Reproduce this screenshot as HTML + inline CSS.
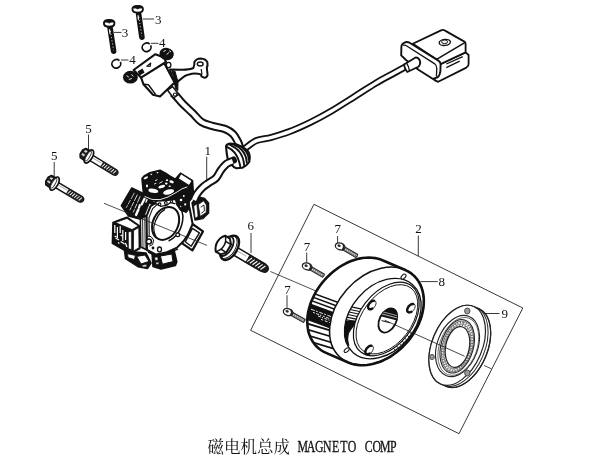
<!DOCTYPE html>
<html lang="zh"><head><meta charset="utf-8"><title>磁电机总成 MAGNETO COMP</title>
<style>
html,body{margin:0;padding:0;background:#fff;}
body{width:600px;height:471px;overflow:hidden;font-family:"Liberation Serif",serif;}
svg{display:block;position:absolute;left:0;top:0;filter:grayscale(1);}
svg text{font-family:"Liberation Serif",serif;fill:#111;}
</style></head>
<body>
<svg width="600" height="471" viewBox="0 0 600 471">
<rect width="600" height="471" fill="#fff"/>
<path d="M314.3 204.5 L522.8 308.0 L459.0 433.7 L251.0 330.5Z" fill="none" stroke="#222" stroke-width="0.9" stroke-linejoin="round" stroke-linecap="round" />
<text x="121.8" y="36.8" font-size="13">3</text>
<line x1="114.0" y1="32.4" x2="121.5" y2="32.4" stroke="#222" stroke-width="0.9"/>
<text x="155.0" y="23.7" font-size="13">3</text>
<line x1="142.7" y1="19.0" x2="154.0" y2="19.0" stroke="#222" stroke-width="0.9"/>
<text x="159.0" y="47.4" font-size="13">4</text>
<line x1="151.0" y1="43.3" x2="158.5" y2="43.3" stroke="#222" stroke-width="0.9"/>
<text x="129.3" y="64.2" font-size="13">4</text>
<line x1="121.0" y1="60.0" x2="128.5" y2="60.0" stroke="#222" stroke-width="0.9"/>
<text x="85.2" y="133.2" font-size="13">5</text>
<line x1="88.5" y1="134.5" x2="88.5" y2="149.5" stroke="#222" stroke-width="0.9"/>
<text x="51.0" y="160.4" font-size="13">5</text>
<line x1="54.2" y1="162.0" x2="54.2" y2="176.0" stroke="#222" stroke-width="0.9"/>
<text x="204.5" y="154.8" font-size="13">1</text>
<line x1="206.7" y1="156.7" x2="206.7" y2="179.3" stroke="#222" stroke-width="0.9"/>
<text x="247.6" y="230.2" font-size="13">6</text>
<line x1="251.0" y1="233.0" x2="251.0" y2="253.0" stroke="#222" stroke-width="0.9"/>
<text x="415.3" y="233.3" font-size="13">2</text>
<line x1="418.3" y1="235.5" x2="418.3" y2="256.0" stroke="#222" stroke-width="0.9"/>
<text x="334.5" y="232.8" font-size="13">7</text>
<line x1="337.6" y1="236.0" x2="337.6" y2="244.0" stroke="#222" stroke-width="0.9"/>
<text x="303.7" y="251.3" font-size="13">7</text>
<line x1="306.7" y1="252.7" x2="306.7" y2="263.3" stroke="#222" stroke-width="0.9"/>
<text x="284.3" y="294.4" font-size="13">7</text>
<line x1="287.0" y1="295.2" x2="287.0" y2="307.7" stroke="#222" stroke-width="0.9"/>
<text x="438.5" y="286.2" font-size="13">8</text>
<line x1="420.4" y1="281.6" x2="437.8" y2="281.6" stroke="#222" stroke-width="0.9"/>
<text x="501.5" y="317.6" font-size="13">9</text>
<line x1="484.5" y1="313.5" x2="499.5" y2="313.5" stroke="#222" stroke-width="0.9"/>
<text x="207.5" y="452.6" font-size="16.5" fill="#111" style="font-family:'Liberation Serif','Noto Serif CJK SC',serif;">磁电机总成</text>
<text transform="scale(0.73 1)" text-anchor="middle" font-size="16.2" stroke="#111" stroke-width="0.3" y="452.0" x="414.6 425.9 437.2 448.5 459.8 471.1 482.4 493.7 505.0 516.3 527.6 538.9">MAGNETO COMP</text>
<defs><clipPath id="fwhull"><path d="M307.3 319.3 L307.6 315.9 L308.1 312.5 L308.9 309.0 L309.9 305.5 L311.0 302.1 L312.5 298.7 L314.1 295.3 L315.9 291.9 L317.9 288.7 L320.1 285.5 L322.5 282.4 L325.0 279.5 L327.7 276.7 L330.5 274.0 L333.4 271.5 L336.4 269.2 L339.5 267.0 L342.7 265.1 L346.0 263.3 L349.3 261.8 L352.6 260.5 L355.9 259.5 L359.2 258.6 L362.5 258.0 L365.8 257.7 L369.0 257.6 L372.1 257.7 L375.1 258.1 L378.1 258.7 L380.9 259.6 L383.6 260.7 L405.9 270.3 L408.4 271.6 L410.8 273.1 L413.0 274.9 L415.0 276.8 L416.9 279.0 L418.5 281.4 L419.9 283.9 L421.2 286.6 L422.1 289.4 L422.9 292.3 L423.4 295.4 L423.8 298.6 L423.8 301.9 L423.7 305.2 L423.3 308.6 L422.6 312.1 L421.8 315.5 L420.7 319.0 L419.4 322.4 L417.9 325.8 L416.1 329.2 L414.2 332.5 L412.1 335.7 L409.8 338.9 L407.4 341.9 L404.8 344.7 L402.0 347.5 L399.2 350.1 L396.2 352.5 L393.1 354.7 L390.0 356.8 L386.8 358.6 L383.5 360.2 L380.2 361.7 L376.8 362.8 L373.5 363.8 L370.2 364.5 L366.9 365.0 L363.7 365.2 L360.5 365.2 L357.5 364.9 L354.5 364.4 L351.6 363.7 L348.9 362.7 L326.6 353.1 L323.9 351.9 L321.5 350.5 L319.2 348.8 L317.1 347.0 L315.1 344.9 L313.4 342.6 L311.9 340.2 L310.5 337.6 L309.4 334.8 L308.5 332.0 L307.9 328.9 L307.5 325.8 L307.3 322.6Z"/></clipPath>
<clipPath id="fwE"><ellipse cx="382.8" cy="318.6" rx="45.2" ry="32.3" transform="rotate(-49.1 382.8 318.6)" fill="#000" stroke="none" stroke-width="1.0" /></clipPath>
<mask id="fwband"><rect x="300" y="250" width="140" height="130" fill="#000"/><ellipse cx="382.8" cy="318.6" rx="45.2" ry="32.3" transform="rotate(-49.1 382.8 318.6)" fill="#fff" stroke="none" stroke-width="1.0" /><ellipse cx="386.3" cy="319.0" rx="41.7" ry="26.4" transform="rotate(-52.4 386.3 319.0)" fill="#000" stroke="none" stroke-width="1.0" /></mask>
<mask id="fwcres"><rect x="300" y="250" width="140" height="130" fill="#000"/><ellipse cx="382.8" cy="318.6" rx="45.2" ry="32.3" transform="rotate(-49.1 382.8 318.6)" fill="#fff" stroke="none" stroke-width="1.0" /><ellipse cx="390.8" cy="320.8" rx="45.2" ry="32.3" transform="rotate(-49.1 390.8 320.8)" fill="#000" stroke="none" stroke-width="1.0" /></mask></defs>
<path d="M307.3 319.3 L307.6 315.9 L308.1 312.5 L308.9 309.0 L309.9 305.5 L311.0 302.1 L312.5 298.7 L314.1 295.3 L315.9 291.9 L317.9 288.7 L320.1 285.5 L322.5 282.4 L325.0 279.5 L327.7 276.7 L330.5 274.0 L333.4 271.5 L336.4 269.2 L339.5 267.0 L342.7 265.1 L346.0 263.3 L349.3 261.8 L352.6 260.5 L355.9 259.5 L359.2 258.6 L362.5 258.0 L365.8 257.7 L369.0 257.6 L372.1 257.7 L375.1 258.1 L378.1 258.7 L380.9 259.6 L383.6 260.7 L405.9 270.3 L408.4 271.6 L410.8 273.1 L413.0 274.9 L415.0 276.8 L416.9 279.0 L418.5 281.4 L419.9 283.9 L421.2 286.6 L422.1 289.4 L422.9 292.3 L423.4 295.4 L423.8 298.6 L423.8 301.9 L423.7 305.2 L423.3 308.6 L422.6 312.1 L421.8 315.5 L420.7 319.0 L419.4 322.4 L417.9 325.8 L416.1 329.2 L414.2 332.5 L412.1 335.7 L409.8 338.9 L407.4 341.9 L404.8 344.7 L402.0 347.5 L399.2 350.1 L396.2 352.5 L393.1 354.7 L390.0 356.8 L386.8 358.6 L383.5 360.2 L380.2 361.7 L376.8 362.8 L373.5 363.8 L370.2 364.5 L366.9 365.0 L363.7 365.2 L360.5 365.2 L357.5 364.9 L354.5 364.4 L351.6 363.7 L348.9 362.7 L326.6 353.1 L323.9 351.9 L321.5 350.5 L319.2 348.8 L317.1 347.0 L315.1 344.9 L313.4 342.6 L311.9 340.2 L310.5 337.6 L309.4 334.8 L308.5 332.0 L307.9 328.9 L307.5 325.8 L307.3 322.6Z" fill="#fff" stroke="none" stroke-width="1.0" stroke-linejoin="round" stroke-linecap="round" />
<g clip-path="url(#fwhull)" stroke="#111" fill="none">
<line x1="300" y1="288.4" x2="345" y2="305.0" stroke-width="1.5"/>
<line x1="300" y1="292.4" x2="345" y2="309.0" stroke-width="1.5"/>
<line x1="300" y1="296.4" x2="345" y2="313.0" stroke-width="1.5"/>
<path d="M300 299.6 L345 316.2 L345 334 L300 317.4Z" fill="#111" stroke="none"/>
<line x1="311.0" y1="309.2" x2="333.0" y2="317.3" stroke="#fff" stroke-width="0.9" stroke-dasharray="4 1.2 2 1.5"/>
<line x1="313.0" y1="312.4" x2="331.0" y2="319.1" stroke="#fff" stroke-width="0.9" stroke-dasharray="2 1.4 3 1 1.5 1.6"/>
<line x1="318.0" y1="316.0" x2="334.0" y2="321.9" stroke="#fff" stroke-width="0.9" stroke-dasharray="3 1.2 1.2 1.4"/>
<line x1="321.0" y1="319.4" x2="333.0" y2="323.8" stroke="#fff" stroke-width="0.9" stroke-dasharray="2 2 3 1.5"/>
<line x1="300" y1="321.4" x2="345" y2="334.9" stroke-width="1.7"/>
<line x1="300" y1="327.2" x2="345" y2="340.7" stroke-width="1.7"/>
<line x1="300" y1="333.0" x2="345" y2="346.5" stroke-width="1.7"/>
<line x1="300" y1="338.6" x2="345" y2="352.1" stroke-width="1.7"/>
</g>
<ellipse cx="376.7" cy="316.2" rx="55.0" ry="40.0" transform="rotate(-48.7 376.7 316.2)" fill="#fff" stroke="#111" stroke-width="1.5" />
<path d="M307.3 319.3 L307.6 315.9 L308.1 312.5 L308.9 309.0 L309.9 305.5 L311.0 302.1 L312.5 298.7 L314.1 295.3 L315.9 291.9 L317.9 288.7 L320.1 285.5 L322.5 282.4 L325.0 279.5 L327.7 276.7 L330.5 274.0 L333.4 271.5 L336.4 269.2 L339.5 267.0 L342.7 265.1 L346.0 263.3 L349.3 261.8 L352.6 260.5 L355.9 259.5 L359.2 258.6 L362.5 258.0 L365.8 257.7 L369.0 257.6 L372.1 257.7 L375.1 258.1 L378.1 258.7 L380.9 259.6 L383.6 260.7 L405.9 270.3 L408.4 271.6 L410.8 273.1 L413.0 274.9 L415.0 276.8 L416.9 279.0 L418.5 281.4 L419.9 283.9 L421.2 286.6 L422.1 289.4 L422.9 292.3 L423.4 295.4 L423.8 298.6 L423.8 301.9 L423.7 305.2 L423.3 308.6 L422.6 312.1 L421.8 315.5 L420.7 319.0 L419.4 322.4 L417.9 325.8 L416.1 329.2 L414.2 332.5 L412.1 335.7 L409.8 338.9 L407.4 341.9 L404.8 344.7 L402.0 347.5 L399.2 350.1 L396.2 352.5 L393.1 354.7 L390.0 356.8 L386.8 358.6 L383.5 360.2 L380.2 361.7 L376.8 362.8 L373.5 363.8 L370.2 364.5 L366.9 365.0 L363.7 365.2 L360.5 365.2 L357.5 364.9 L354.5 364.4 L351.6 363.7 L348.9 362.7 L326.6 353.1 L323.9 351.9 L321.5 350.5 L319.2 348.8 L317.1 347.0 L315.1 344.9 L313.4 342.6 L311.9 340.2 L310.5 337.6 L309.4 334.8 L308.5 332.0 L307.9 328.9 L307.5 325.8 L307.3 322.6Z" fill="none" stroke="#111" stroke-width="2.6" stroke-linejoin="round"/>
<ellipse cx="382.8" cy="318.6" rx="45.2" ry="32.3" transform="rotate(-49.1 382.8 318.6)" fill="#fff" stroke="#111" stroke-width="1.3" />
<g mask="url(#fwband)"><path d="M335 320.5 L356.5 320.5 L354 326 L351 330 L349 333.3 L348.4 337 L348.2 340 L349.4 345.8 L335 345.8Z" fill="#111"/></g>
<g mask="url(#fwband)" stroke="#111">
<line x1="340" y1="304.4" x2="372" y2="311.4" stroke-width="1.1"/>
<line x1="340" y1="307.2" x2="372" y2="314.2" stroke-width="1.1"/>
<line x1="340" y1="310.0" x2="372" y2="317.0" stroke-width="1.1"/>
<line x1="340" y1="312.8" x2="372" y2="319.8" stroke-width="1.1"/>
<line x1="340" y1="315.6" x2="372" y2="322.6" stroke-width="1.1"/>
<line x1="340" y1="318.2" x2="372" y2="325.2" stroke-width="1.1"/>
<line x1="391.0" y1="346.0" x2="398.0" y2="353.0" stroke-width="0.9"/>
<line x1="393.6" y1="343.2" x2="400.6" y2="350.2" stroke-width="0.9"/>
<line x1="396.2" y1="340.4" x2="403.2" y2="347.4" stroke-width="0.9"/>
<line x1="398.8" y1="337.6" x2="405.8" y2="344.6" stroke-width="0.9"/>
<line x1="401.4" y1="334.8" x2="408.4" y2="341.8" stroke-width="0.9"/>
<line x1="404.0" y1="332.0" x2="411.0" y2="339.0" stroke-width="0.9"/>
<line x1="406.6" y1="329.2" x2="413.6" y2="336.2" stroke-width="0.9"/>
</g>
<ellipse cx="386.3" cy="319.0" rx="41.7" ry="26.4" transform="rotate(-52.4 386.3 319.0)" fill="#fff" stroke="#111" stroke-width="1.2" />
<ellipse cx="386.9" cy="319.3" rx="39.5" ry="24.4" transform="rotate(-52.4 386.9 319.3)" fill="none" stroke="#111" stroke-width="0.9" />
<defs><clipPath id="hubc"><ellipse cx="387.8" cy="320.5" rx="12.8" ry="8.3" transform="rotate(-63.0 387.8 320.5)" fill="#000" stroke="none" stroke-width="1.0" /></clipPath></defs>
<ellipse cx="387.8" cy="320.5" rx="12.8" ry="8.3" transform="rotate(-63.0 387.8 320.5)" fill="#fff" stroke="#111" stroke-width="1.8" />
<g clip-path="url(#hubc)"><path d="M370 300 L410 300 L410 323.8 L370 313.3Z" fill="#111"/><line x1="376" y1="312.4" x2="400" y2="318.7" stroke="#fff" stroke-width="0.7"/><line x1="378" y1="310.6" x2="400" y2="316.4" stroke="#fff" stroke-width="0.6"/><line x1="381.6" y1="320.6" x2="390" y2="322.8" stroke="#111" stroke-width="1.0"/></g>
<ellipse cx="371.9" cy="305.0" rx="5.3" ry="3.3" transform="rotate(-52.0 371.9 305.0)" fill="#fff" stroke="#111" stroke-width="0.8" />
<path d="M372.4 308.5 L371.4 309.0 L370.5 309.2 L369.6 309.2 L368.9 308.9 L368.4 308.3 L368.2 307.6 L368.1 306.6 L368.3 305.6 L368.8 304.5 L369.4 303.4 L370.3 302.5 L371.2 301.7 L372.1 301.1 L373.1 300.8 L374.0 300.8" fill="none" stroke="#111" stroke-width="2.4" stroke-linecap="round"/>
<ellipse cx="411.0" cy="308.2" rx="5.3" ry="3.3" transform="rotate(-52.0 411.0 308.2)" fill="#fff" stroke="#111" stroke-width="0.8" />
<path d="M411.5 311.7 L410.5 312.2 L409.6 312.4 L408.7 312.4 L408.0 312.1 L407.5 311.5 L407.3 310.8 L407.2 309.8 L407.4 308.8 L407.9 307.7 L408.5 306.6 L409.4 305.7 L410.3 304.9 L411.2 304.3 L412.2 304.0 L413.1 304.0" fill="none" stroke="#111" stroke-width="2.4" stroke-linecap="round"/>
<ellipse cx="369.2" cy="350.0" rx="5.3" ry="3.3" transform="rotate(-52.0 369.2 350.0)" fill="#fff" stroke="#111" stroke-width="0.8" />
<path d="M369.7 353.5 L368.7 354.0 L367.8 354.2 L366.9 354.2 L366.2 353.9 L365.7 353.3 L365.5 352.6 L365.4 351.6 L365.6 350.6 L366.1 349.5 L366.7 348.4 L367.6 347.5 L368.5 346.7 L369.4 346.1 L370.4 345.8 L371.3 345.8" fill="none" stroke="#111" stroke-width="2.4" stroke-linecap="round"/>
<ellipse cx="403.5" cy="276.6" rx="3.0" ry="1.8" transform="rotate(-45.0 403.5 276.6)" fill="#fff" stroke="#111" stroke-width="1.0" />
<ellipse cx="346.7" cy="350.2" rx="3.0" ry="1.6" transform="rotate(-40.0 346.7 350.2)" fill="#fff" stroke="#111" stroke-width="1.0" />
<path d="M428.9 359.8 L429.0 357.1 L429.2 354.4 L429.6 351.6 L430.1 348.8 L430.7 346.0 L431.4 343.2 L432.3 340.4 L433.3 337.6 L434.5 334.8 L435.7 332.2 L437.1 329.5 L438.5 327.0 L440.1 324.5 L441.7 322.2 L443.4 319.9 L445.2 317.8 L447.0 315.8 L448.9 314.0 L450.8 312.3 L452.8 310.8 L454.8 309.5 L456.8 308.3 L458.8 307.3 L460.8 306.6 L462.7 306.0 L464.7 305.6 L466.6 305.4 L468.4 305.4 L470.2 305.6 L472.0 306.0 L473.6 306.5 L478.8 308.7 L480.4 309.5 L481.9 310.5 L483.3 311.7 L484.6 313.0 L485.8 314.5 L486.9 316.2 L487.8 318.0 L488.6 320.0 L489.3 322.1 L489.8 324.3 L490.3 326.7 L490.7 331.7 L490.7 334.3 L490.5 337.0 L490.2 339.8 L489.8 342.6 L488.6 348.2 L486.8 353.8 L485.7 356.6 L484.5 359.3 L483.2 362.0 L481.8 364.6 L480.3 367.1 L478.7 369.5 L477.0 371.8 L475.3 374.0 L473.5 376.0 L471.6 377.9 L469.7 379.7 L467.8 381.3 L465.8 382.7 L463.8 383.9 L461.8 385.0 L459.8 385.9 L457.8 386.6 L455.9 387.1 L454.0 387.4 L452.1 387.5 L450.2 387.4 L448.5 387.1 L446.8 386.6 L445.1 385.9 L439.9 383.7 L438.4 382.8 L437.0 381.7 L435.6 380.5 L434.4 379.1 L433.3 377.5 L432.3 375.7 L431.4 373.8 L430.6 371.8 L430.0 369.6 L429.5 367.3 L429.2 364.9 L429.0 362.4Z" fill="#fff" stroke="#222" stroke-width="1.3" stroke-linejoin="round" stroke-linecap="round" />
<ellipse cx="462.4" cy="347.5" rx="42.1" ry="25.0" transform="rotate(-67.0 462.4 347.5)" fill="none" stroke="#222" stroke-width="1.0" />
<ellipse cx="459.8" cy="346.4" rx="42.1" ry="25.0" transform="rotate(-67.0 459.8 346.4)" fill="none" stroke="#222" stroke-width="1.0" />
<ellipse cx="457.2" cy="345.3" rx="42.1" ry="25.0" transform="rotate(-67.0 457.2 345.3)" fill="#fff" stroke="#222" stroke-width="1.2" />
<ellipse cx="457.5" cy="346.0" rx="31.7" ry="20.3" transform="rotate(-69.5 457.5 346.0)" fill="#fff" stroke="#222" stroke-width="1.1" />
<ellipse cx="458.3" cy="346.4" rx="30.1" ry="18.7" transform="rotate(-69.5 458.3 346.4)" fill="none" stroke="#444" stroke-width="0.7" />
<ellipse cx="457.2" cy="346.3" rx="27.4" ry="16.2" transform="rotate(-74.2 457.2 346.3)" fill="#ececec" stroke="#222" stroke-width="1.1" />
<ellipse cx="457.5" cy="346.5" rx="26.1" ry="15.0" transform="rotate(-74.2 457.5 346.5)" fill="none" stroke="#444" stroke-width="0.7" />
<ellipse cx="457.3" cy="346.5" rx="24.6" ry="14.2" transform="rotate(-75.5 457.3 346.5)" fill="none" stroke="#666" stroke-width="2.0" stroke-dasharray="1.0 1.6"/>
<ellipse cx="457.3" cy="346.5" rx="22.9" ry="12.7" transform="rotate(-75.5 457.3 346.5)" fill="none" stroke="#888" stroke-width="0.9" />
<ellipse cx="457.5" cy="347.0" rx="22.0" ry="12.9" transform="rotate(-78.4 457.5 347.0)" fill="none" stroke="#777" stroke-width="1.6" stroke-dasharray="1.2 1.8"/>
<ellipse cx="457.5" cy="347.0" rx="20.7" ry="11.8" transform="rotate(-78.4 457.5 347.0)" fill="#fff" stroke="#222" stroke-width="1.2" />
<ellipse cx="467.3" cy="311.0" rx="2.7" ry="3.0" fill="#9a9a9a" stroke="#444" stroke-width="0.9"/>
<ellipse cx="432.0" cy="357.0" rx="2.3" ry="2.6" fill="#9a9a9a" stroke="#444" stroke-width="0.9"/>
<ellipse cx="467.3" cy="373.0" rx="2.7" ry="3.0" fill="#9a9a9a" stroke="#444" stroke-width="0.9"/>
<line x1="110.1" y1="27.9" x2="113.6" y2="51.2" stroke="#111" stroke-width="5.6" stroke-linecap="round"/>
<line x1="110.3" y1="30.9" x2="113.6" y2="50.2" stroke="#fff" stroke-width="0.9" stroke-dasharray="1 2.2"/>
<line x1="109.5" y1="29.4" x2="110.0" y2="33.9" stroke="#fff" stroke-width="1.2"/>
<path d="M104.0 24.0 c-0.6 -3.2 1.6 -4 5.2 -4 c3.6 0 5.8 0.8 5.2 4 c-0.3 1.9 -2.4 2.7 -5.2 2.7 c-2.8 0 -4.9 -0.8 -5.2 -2.7z" fill="#fff" stroke="#111" stroke-width="1.9"/>
<path d="M104.8 22.2 q0.8 -2.4 4.4 -2.5 q3.6 0.1 4.4 2.5 q-2.4 -0.6 -4.4 0.8 q-2 -1.4 -4.4 -0.8z" fill="#111" stroke="#111" stroke-width="0.8" stroke-linejoin="round"/>
<line x1="138.6" y1="13.8" x2="141.9" y2="37.2" stroke="#111" stroke-width="5.6" stroke-linecap="round"/>
<line x1="138.8" y1="16.8" x2="141.9" y2="36.2" stroke="#fff" stroke-width="0.9" stroke-dasharray="1 2.2"/>
<line x1="138.0" y1="15.3" x2="138.5" y2="19.8" stroke="#fff" stroke-width="1.2"/>
<path d="M132.5 9.9 c-0.6 -3.2 1.6 -4 5.2 -4 c3.6 0 5.8 0.8 5.2 4 c-0.3 1.9 -2.4 2.7 -5.2 2.7 c-2.8 0 -4.9 -0.8 -5.2 -2.7z" fill="#fff" stroke="#111" stroke-width="1.9"/>
<path d="M133.3 8.1 q0.8 -2.4 4.4 -2.5 q3.6 0.1 4.4 2.5 q-2.4 -0.6 -4.4 0.8 q-2 -1.4 -4.4 -0.8z" fill="#111" stroke="#111" stroke-width="0.8" stroke-linejoin="round"/>
<ellipse cx="146.6" cy="47.3" rx="4.5" ry="4.2" fill="#fff" stroke="#111" stroke-width="1.7" stroke-dasharray="25 2.5" transform="rotate(-25 146.6 47.3)"/>
<ellipse cx="116.3" cy="63.8" rx="4.5" ry="4.2" fill="#fff" stroke="#111" stroke-width="1.7" stroke-dasharray="25 2.5" transform="rotate(-25 116.3 63.8)"/>
<g transform="translate(88.9 156.5) rotate(31.3)">
<path d="M1 -3 L30 -3 Q33.5 -2.6 33.5 0 Q33.5 2.6 30 3 L1 3Z" fill="#fff" stroke="#111" stroke-width="1.4"/>
<path d="M15 -3.2 L30 -3.2 Q33.6 -2.6 33.6 0 Q33.6 2.6 30 3.2 L15 3.2Z" fill="#222"/>
<line x1="17.6" y1="-2" x2="16.4" y2="2" stroke="#fff" stroke-width="0.9"/>
<line x1="20.2" y1="-2" x2="19.0" y2="2" stroke="#fff" stroke-width="0.9"/>
<line x1="22.8" y1="-2" x2="21.6" y2="2" stroke="#fff" stroke-width="0.9"/>
<line x1="25.4" y1="-2" x2="24.2" y2="2" stroke="#fff" stroke-width="0.9"/>
<line x1="28.0" y1="-2" x2="26.8" y2="2" stroke="#fff" stroke-width="0.9"/>
<line x1="30.6" y1="-2" x2="29.4" y2="2" stroke="#fff" stroke-width="0.9"/>
<line x1="4" y1="-0.8" x2="14" y2="-0.8" stroke="#999" stroke-width="0.8"/>
<path d="M-2 -5.8 L-6.8 -5.4 L-8.8 -2.4 L-8.8 2.6 L-6.8 5.6 L-2 5.8Z" fill="#222" stroke="#111" stroke-width="1.4" stroke-linejoin="round"/>
<path d="M-3.4 -4 L-6.6 -3.6 L-6.6 -1.6 L-3.4 -1.8Z" fill="#ddd"/>
<path d="M-3.4 0.4 L-7.4 0.4 L-7.4 2.4 L-3.4 2.6Z" fill="#ccc"/>
<ellipse cx="0" cy="0" rx="3.4" ry="7.4" fill="#fff" stroke="#111" stroke-width="1.7"/>
<ellipse cx="-0.8" cy="0" rx="1.6" ry="5.6" fill="none" stroke="#333" stroke-width="0.9"/>
</g>
<g transform="translate(54.5 183.6) rotate(30.8)">
<path d="M1 -3 L30 -3 Q33.5 -2.6 33.5 0 Q33.5 2.6 30 3 L1 3Z" fill="#fff" stroke="#111" stroke-width="1.4"/>
<path d="M15 -3.2 L30 -3.2 Q33.6 -2.6 33.6 0 Q33.6 2.6 30 3.2 L15 3.2Z" fill="#222"/>
<line x1="17.6" y1="-2" x2="16.4" y2="2" stroke="#fff" stroke-width="0.9"/>
<line x1="20.2" y1="-2" x2="19.0" y2="2" stroke="#fff" stroke-width="0.9"/>
<line x1="22.8" y1="-2" x2="21.6" y2="2" stroke="#fff" stroke-width="0.9"/>
<line x1="25.4" y1="-2" x2="24.2" y2="2" stroke="#fff" stroke-width="0.9"/>
<line x1="28.0" y1="-2" x2="26.8" y2="2" stroke="#fff" stroke-width="0.9"/>
<line x1="30.6" y1="-2" x2="29.4" y2="2" stroke="#fff" stroke-width="0.9"/>
<line x1="4" y1="-0.8" x2="14" y2="-0.8" stroke="#999" stroke-width="0.8"/>
<path d="M-2 -5.8 L-6.8 -5.4 L-8.8 -2.4 L-8.8 2.6 L-6.8 5.6 L-2 5.8Z" fill="#222" stroke="#111" stroke-width="1.4" stroke-linejoin="round"/>
<path d="M-3.4 -4 L-6.6 -3.6 L-6.6 -1.6 L-3.4 -1.8Z" fill="#ddd"/>
<path d="M-3.4 0.4 L-7.4 0.4 L-7.4 2.4 L-3.4 2.6Z" fill="#ccc"/>
<ellipse cx="0" cy="0" rx="3.4" ry="7.4" fill="#fff" stroke="#111" stroke-width="1.7"/>
<ellipse cx="-0.8" cy="0" rx="1.6" ry="5.6" fill="none" stroke="#333" stroke-width="0.9"/>
</g>
<g transform="translate(228.6 247.2) rotate(30.6)">
<path d="M6 -4.2 L40 -4.2 Q45.5 -3.6 45.5 0 Q45.5 3.6 40 4.2 L6 4.2Z" fill="#fff" stroke="#111" stroke-width="1.5"/>
<path d="M22 -4.4 L40 -4.4 Q45.7 -3.6 45.7 0 Q45.7 3.6 40 4.4 L22 4.4Z" fill="#1a1a1a"/>
<line x1="25.7" y1="-2.6" x2="23.3" y2="3" stroke="#fff" stroke-width="1.1"/>
<line x1="28.8" y1="-2.6" x2="26.4" y2="3" stroke="#fff" stroke-width="1.1"/>
<line x1="31.9" y1="-2.6" x2="29.5" y2="3" stroke="#fff" stroke-width="1.1"/>
<line x1="35.0" y1="-2.6" x2="32.6" y2="3" stroke="#fff" stroke-width="1.1"/>
<line x1="38.1" y1="-2.6" x2="35.7" y2="3" stroke="#fff" stroke-width="1.1"/>
<line x1="41.2" y1="-2.6" x2="38.8" y2="3" stroke="#fff" stroke-width="1.1"/>
<line x1="9" y1="-1.2" x2="20" y2="-1.2" stroke="#aaa" stroke-width="0.9"/>
<ellipse cx="1.2" cy="0" rx="7.6" ry="13.4" fill="#fff" stroke="#111" stroke-width="2.3"/>
<ellipse cx="-0.2" cy="0" rx="7.0" ry="12.4" fill="none" stroke="#111" stroke-width="0.9"/>
<ellipse cx="-2.4" cy="0.3" rx="5.6" ry="10.8" fill="#fff" stroke="#111" stroke-width="1.8"/>
<g transform="translate(0.8 1.0)"><path d="M-4 -9 L-9.6 -9.2 Q-13.2 -5 -13.2 0 Q-13.2 5 -9.6 9.4 L-4 9.2 L0 4.8 L0 -4.4Z" fill="#fff" stroke="#111" stroke-width="2.0" stroke-linejoin="round"/>
<path d="M-9.6 -9.2 Q-5.4 -5 -5.6 0 Q-5.4 5 -9.6 9.4 M-5.8 -4.4 L0 -4.4 M-5.8 4.6 L0 4.8" fill="none" stroke="#111" stroke-width="1.5" stroke-linejoin="round"/></g>
</g>
<g transform="translate(340.0 246.2) rotate(30.2)">
<path d="M3 -1.9 L19.3 -1.9 Q20.5 0 19.3 1.9 L3 1.9Z" fill="#777" stroke="#222" stroke-width="0.9"/>
<line x1="6" y1="-0.1" x2="19.1" y2="-0.1" stroke="#e8e8e8" stroke-width="1.5" stroke-dasharray="0.9 1.2"/>
</g>
<ellipse cx="340.2" cy="246.4" rx="4.9" ry="3.4" transform="rotate(18 340.0 246.2)" fill="#fff" stroke="#222" stroke-width="1.3"/>
<path d="M342.6 244.0 q2.6 2.6 -0.6 6" fill="none" stroke="#222" stroke-width="1.5"/>
<ellipse cx="339.0" cy="246.0" rx="1.7" ry="1.3" transform="rotate(18 340.0 246.2)" fill="#333"/>
<g transform="translate(307.0 266.2) rotate(30.0)">
<path d="M3 -1.9 L19.0 -1.9 Q20.2 0 19.0 1.9 L3 1.9Z" fill="#777" stroke="#222" stroke-width="0.9"/>
<line x1="6" y1="-0.1" x2="18.8" y2="-0.1" stroke="#e8e8e8" stroke-width="1.5" stroke-dasharray="0.9 1.2"/>
</g>
<ellipse cx="307.2" cy="266.4" rx="4.9" ry="3.4" transform="rotate(18 307.0 266.2)" fill="#fff" stroke="#222" stroke-width="1.3"/>
<path d="M309.6 264.0 q2.6 2.6 -0.6 6" fill="none" stroke="#222" stroke-width="1.5"/>
<ellipse cx="306.0" cy="266.0" rx="1.7" ry="1.3" transform="rotate(18 307.0 266.2)" fill="#333"/>
<g transform="translate(288.0 311.8) rotate(29.2)">
<path d="M3 -1.9 L18.7 -1.9 Q19.9 0 18.7 1.9 L3 1.9Z" fill="#777" stroke="#222" stroke-width="0.9"/>
<line x1="6" y1="-0.1" x2="18.5" y2="-0.1" stroke="#e8e8e8" stroke-width="1.5" stroke-dasharray="0.9 1.2"/>
</g>
<ellipse cx="288.2" cy="312.0" rx="4.9" ry="3.4" transform="rotate(18 288.0 311.8)" fill="#fff" stroke="#222" stroke-width="1.3"/>
<path d="M290.6 309.6 q2.6 2.6 -0.6 6" fill="none" stroke="#222" stroke-width="1.5"/>
<ellipse cx="287.0" cy="311.6" rx="1.7" ry="1.3" transform="rotate(18 288.0 311.8)" fill="#333"/>
<path d="M192.0 203.0 L197.0 196.4 L204.6 198.4 L208.6 203.0 L208.6 213.0 L203.0 218.6 L195.0 220.0Z" fill="#111" stroke="#111" stroke-width="1.4" stroke-linejoin="round"/>
<path d="M198.2 204.6 L203.6 200.8 L206.4 205.0 L206.2 212.6 L200.2 216.4Z" fill="#fff" stroke="#111" stroke-width="0.8" stroke-linejoin="round"/>
<path d="M193.8 206.0 L196.8 204.0 L198.0 216.4 L195.2 218.2Z" fill="#fff" stroke="#111" stroke-width="0.6" stroke-linejoin="round"/>
<path d="M201.0 207.0 L204.0 205.0 L204.4 211.0 L201.6 213.0" fill="none" stroke="#111" stroke-width="0.9" stroke-linejoin="round" stroke-linecap="round"/>
<path d="M192.4 224.0 L203.0 231.4 L192.4 250.4 L181.8 243.2Z" fill="#fff" stroke="#111" stroke-width="2.2" stroke-linejoin="round"/>
<path d="M192.4 228.4 L199.4 232.8 L191.2 246.2 L185.2 241.8Z" fill="#fff" stroke="#111" stroke-width="1.4" stroke-linejoin="round"/>
<path d="M152.0 252.0 L174.0 250.0 L176.8 261.6 L175.4 265.4 L161.0 269.0 L153.0 266.4Z" fill="#111" stroke="#111" stroke-width="1.6" stroke-linejoin="round"/>
<path d="M160.4 256.0 L171.8 254.0 L173.0 261.6 L162.4 264.2Z" fill="#fff" stroke="#111" stroke-width="1" stroke-linejoin="round"/>
<path d="M154.6 257.6 L157.6 257.0 L158.0 260.0 L155.4 260.6Z" fill="#fff" stroke="#111" stroke-width="0.5" stroke-linejoin="round"/>
<path d="M155.6 262.6 L158.6 262.0 L159.0 264.0 L156.4 264.6Z" fill="#ddd" stroke="#111" stroke-width="0.5" stroke-linejoin="round"/>
<path d="M124.6 251.0 L146.0 253.0 L151.0 263.0 L147.6 268.4 L138.0 266.6 L125.6 258.6Z" fill="#111" stroke="#111" stroke-width="1.6" stroke-linejoin="round"/>
<path d="M136.6 256.4 L145.0 255.0 L149.0 261.4 L141.0 264.0Z" fill="#fff" stroke="#111" stroke-width="1" stroke-linejoin="round"/>
<path d="M127.4 253.8 L135.4 255.4 L134.4 259.6 L128.2 257.6Z" fill="#fff" stroke="#111" stroke-width="0.8" stroke-linejoin="round"/>
<path d="M141.6 265.4 L146.4 264.2 L146.8 266.8 L143.0 267.0Z" fill="#ddd" stroke="#111" stroke-width="0.5" stroke-linejoin="round"/>
<path d="M121.4 205.6 L131.8 188.0 L150.0 196.6 L154.0 204.0 L149.6 217.6 L141.6 219.6 L128.6 216.0Z" fill="#111" stroke="#111" stroke-width="1.6" stroke-linejoin="round"/>
<line x1="134.4" y1="192.8" x2="126.2" y2="207.8" stroke="#fff" stroke-width="0.7" stroke-dasharray="7 1.2 5 1"/>
<line x1="137.4" y1="194.6" x2="129.8" y2="210.2" stroke="#fff" stroke-width="0.8" stroke-dasharray="7 1.2 5 1"/>
<line x1="140.2" y1="196.2" x2="133.2" y2="212.4" stroke="#fff" stroke-width="0.8" stroke-dasharray="7 1.2 5 1"/>
<line x1="144.6" y1="198.4" x2="141.6" y2="204.4" stroke="#fff" stroke-width="2.3" stroke-linecap="round"/>
<line x1="138.4" y1="209.6" x2="136.0" y2="215.0" stroke="#fff" stroke-width="2.4" stroke-linecap="round"/>
<line x1="139.8" y1="205.2" x2="139.0" y2="207.8" stroke="#fff" stroke-width="2.2" stroke-linecap="round"/>
<line x1="147.0" y1="199.6" x2="146.0" y2="202.0" stroke="#fff" stroke-width="1.4" stroke-linecap="round"/>
<path d="M149.4 203.4 L152.8 205.0 L148.2 216.4 L144.8 214.8Z" fill="#fff" stroke="#111" stroke-width="0.6" stroke-linejoin="round"/>
<path d="M142.0 178.6 L144.6 175.6 L150.0 172.8 L160.0 170.2 L166.0 173.4 L171.0 176.8 L176.0 179.6 L178.0 190.0 L176.6 198.4 L166.0 200.6 L156.0 201.0 L149.0 199.6 L143.4 193.0Z" fill="#111" stroke="#111" stroke-width="1.6" stroke-linejoin="round"/>
<ellipse cx="145.8" cy="177.8" rx="2.4" ry="1.0" transform="rotate(-25 145.8 177.8)" fill="#fff"/>
<ellipse cx="151.4" cy="174.4" rx="0.9" ry="0.6" transform="rotate(-20 151.4 174.4)" fill="#fff"/>
<ellipse cx="157.5" cy="172.6" rx="1.0" ry="0.6" transform="rotate(-20 157.5 172.6)" fill="#fff"/>
<ellipse cx="161.7" cy="186.6" rx="3.5" ry="1.5" transform="rotate(-18 161.7 186.6)" fill="#fff"/>
<ellipse cx="153.3" cy="190.8" rx="5.0" ry="2.1" transform="rotate(10 153.3 190.8)" fill="#fff"/>
<ellipse cx="168.6" cy="192.0" rx="5.6" ry="2.5" transform="rotate(-14 168.6 192.0)" fill="#fff"/>
<ellipse cx="171.6" cy="181.8" rx="2.3" ry="1.4" transform="rotate(20 171.6 181.8)" fill="#fff"/>
<ellipse cx="167.0" cy="180.2" rx="1.1" ry="0.9" transform="rotate(0 167.0 180.2)" fill="#fff"/>
<ellipse cx="166.3" cy="183.6" rx="1.3" ry="1.1" transform="rotate(0 166.3 183.6)" fill="#fff"/>
<ellipse cx="156.3" cy="180.1" rx="1.6" ry="0.5" transform="rotate(-30 156.3 180.1)" fill="#fff"/>
<ellipse cx="160.9" cy="182.4" rx="2.3" ry="0.5" transform="rotate(-28 160.9 182.4)" fill="#fff"/>
<ellipse cx="155.2" cy="183.6" rx="1.4" ry="0.5" transform="rotate(-28 155.2 183.6)" fill="#fff"/>
<ellipse cx="169.7" cy="186.2" rx="1.2" ry="0.8" transform="rotate(0 169.7 186.2)" fill="#fff"/>
<ellipse cx="147.0" cy="186.0" rx="1.0" ry="1.4" transform="rotate(0 147.0 186.0)" fill="#fff"/>
<path d="M175.6 178.6 L180.6 173.0 L192.6 180.6 L193.6 196.0 L188.0 203.0 L176.0 199.6Z" fill="#111" stroke="#111" stroke-width="1.4" stroke-linejoin="round"/>
<path d="M180.9 173.6 L192.2 180.8 L189.2 185.6 L178.2 178.6Z" fill="#fff" stroke="#111" stroke-width="1.1" stroke-linejoin="round"/>
<path d="M113.0 222.4 L120.6 219.6 L127.0 217.2 L139.4 225.8 L139.8 248.6 L132.6 252.4 L125.8 251.0 L112.4 243.2Z" fill="#111" stroke="#111" stroke-width="1.6" stroke-linejoin="round"/>
<path d="M115.4 222.6 L127.0 218.4 L138.4 226.0 L132.0 229.6Z" fill="#fff" stroke="#111" stroke-width="0.8" stroke-linejoin="round"/>
<path d="M133.6 230.4 L138.8 227.6 L139.0 247.8 L133.4 251.0Z" fill="#fff" stroke="#111" stroke-width="0.8" stroke-linejoin="round"/>
<path d="M128.4 232.0 L131.4 231.4 L131.4 249.6 L128.6 248.6Z" fill="#fff" stroke="#111" stroke-width="0.5" stroke-linejoin="round"/>
<line x1="114.8" y1="225.0" x2="114.8" y2="233.0" stroke="#fff" stroke-width="1.2"/>
<line x1="117.4" y1="227.0" x2="117.4" y2="238.0" stroke="#fff" stroke-width="1.2"/>
<line x1="120.2" y1="226.0" x2="120.2" y2="233.0" stroke="#fff" stroke-width="1.2"/>
<line x1="122.8" y1="230.0" x2="122.8" y2="241.0" stroke="#fff" stroke-width="1.2"/>
<line x1="125.6" y1="232.0" x2="125.6" y2="240.0" stroke="#fff" stroke-width="1.2"/>
<line x1="115.6" y1="238.0" x2="119.0" y2="240.0" stroke="#fff" stroke-width="1.2"/>
<line x1="120.6" y1="241.6" x2="124.6" y2="244.0" stroke="#fff" stroke-width="1.2"/>
<line x1="120.6" y1="235.0" x2="122.6" y2="236.2" stroke="#fff" stroke-width="1.2"/>
<line x1="114.6" y1="236.0" x2="116.6" y2="237.0" stroke="#fff" stroke-width="1.2"/>
<line x1="125.4" y1="243.0" x2="127.0" y2="247.0" stroke="#fff" stroke-width="1.2"/>
<line x1="118.0" y1="242.6" x2="119.4" y2="243.4" stroke="#fff" stroke-width="1.2"/>
<path d="M140.4 219.0 L146.6 215.6 L147.0 250.0 L140.8 247.0Z" fill="#fff" stroke="#111" stroke-width="1.5" stroke-linejoin="round"/>
<path d="M142.6 218.4 L143.0 248.0" fill="none" stroke="#111" stroke-width="0.9" stroke-linejoin="round" stroke-linecap="round"/>
<path d="M144.8 217.2 L145.2 249.0" fill="none" stroke="#111" stroke-width="0.9" stroke-linejoin="round" stroke-linecap="round"/>
<path d="M146.6 216.0 L150.4 206.6 L157.0 200.8 L166.0 200.2 L176.0 199.0 L184.6 201.6 L189.6 208.0 L192.6 224.0 L188.0 234.6 L183.6 241.0 L177.0 247.6 L166.0 252.6 L156.0 254.6 L147.0 250.0Z" fill="#fff" stroke="#111" stroke-width="2.0" stroke-linejoin="round"/>
<path d="M175.0 198.0 L183.0 191.5 L188.6 195.0 L189.8 208.0 L186.4 212.6 L180.4 210.4 L176.8 205.0Z" fill="#111" stroke="#111" stroke-width="1.0" stroke-linejoin="round"/>
<circle cx="181.0" cy="200.0" r="1.3" fill="#fff"/>
<circle cx="185.2" cy="204.4" r="1.1" fill="#fff"/>
<circle cx="183.8" cy="196.0" r="0.9" fill="#fff"/>
<circle cx="180.6" cy="206.6" r="0.8" fill="#fff"/>
<path d="M151.6 205.4 L156.0 203.6 L161.0 206.4 L167.0 205.2 L170.4 202.6 L175.0 203.6" fill="none" stroke="#111" stroke-width="1.3" stroke-linejoin="round" stroke-linecap="round"/>
<circle cx="159.6" cy="204.2" r="1.3" fill="#fff" stroke="#111" stroke-width="1.1"/>
<circle cx="165.8" cy="203.0" r="1.4" fill="#fff" stroke="#111" stroke-width="1.1"/>
<circle cx="171.6" cy="201.4" r="1.1" fill="#fff" stroke="#111" stroke-width="1.1"/>
<path d="M145.0 196.6 L152.0 199.4 L160.0 199.6 L168.0 197.0 L176.0 192.6 L182.0 188.8 L187.0 187.0" fill="none" stroke="#111" stroke-width="2.6" stroke-linejoin="round" stroke-linecap="round"/>
<path d="M145.0 196.6 L152.0 199.4 L160.0 199.6 L168.0 197.0 L176.0 192.6 L182.0 188.8 L187.0 187.0" fill="none" stroke="#fff" stroke-width="0.9" stroke-linejoin="round" stroke-linecap="round"/>
<path d="M176.6 203.6 Q184.6 211 182.6 221 Q181 230 176 235.6 Q172.6 239.4 168.6 241" fill="none" stroke="#111" stroke-width="1.5"/>
<ellipse cx="165.6" cy="223.4" rx="12.6" ry="17.2" transform="rotate(25.5 165.6 223.4)" fill="#fff" stroke="#111" stroke-width="2.0"/>
<path d="M165 209.4 Q156.6 214 153.8 226.6 Q153.6 233 156.6 238" fill="none" stroke="#111" stroke-width="1.2"/>
<path d="M158.6 203.4 L152.6 208.6 L149.0 217.6 L149.2 236.0" fill="none" stroke="#111" stroke-width="1.1" stroke-linejoin="round" stroke-linecap="round"/>
<path d="M148.6 252.4 L156.0 256.0 L166.0 254.2 L177.6 249.2" fill="none" stroke="#111" stroke-width="1.4" stroke-linejoin="round" stroke-linecap="round"/>
<circle cx="148.9" cy="241.4" r="2.5" fill="#fff" stroke="#111" stroke-width="1.5"/>
<circle cx="153" cy="248" r="1.4" fill="#111"/>
<ellipse cx="159.5" cy="249.4" rx="2" ry="2.4" fill="#fff" stroke="#111" stroke-width="1.3"/>
<circle cx="177.8" cy="234.8" r="1.9" fill="#fff" stroke="#111" stroke-width="1.2"/>
<path d="M147.0 236.0 L151.0 236.6 L153.6 240.0 L152.6 244.6 L149.6 246.0" fill="none" stroke="#111" stroke-width="1.0" stroke-linejoin="round" stroke-linecap="round"/>
<path d="M173.0 93.0 C173.5 93.5 174.3 94.2 176.0 96.0 C177.7 97.8 180.2 101.2 183.0 104.0 C185.8 106.8 189.4 110.0 192.5 113.0 C195.6 116.0 198.2 119.8 201.5 122.0 C204.8 124.2 208.6 124.8 212.5 126.0 C216.4 127.2 221.6 127.7 225.0 129.0 C228.4 130.3 230.8 131.8 233.0 134.0 C235.2 136.2 236.8 139.7 238.0 142.0 C239.2 144.3 239.7 147.0 240.0 148.0" fill="none" stroke="#111" stroke-width="8.4" stroke-linecap="butt"/>
<path d="M173.0 93.0 C173.5 93.5 174.3 94.2 176.0 96.0 C177.7 97.8 180.2 101.2 183.0 104.0 C185.8 106.8 189.4 110.0 192.5 113.0 C195.6 116.0 198.2 119.8 201.5 122.0 C204.8 124.2 208.6 124.8 212.5 126.0 C216.4 127.2 221.6 127.7 225.0 129.0 C228.4 130.3 230.8 131.8 233.0 134.0 C235.2 136.2 236.8 139.7 238.0 142.0 C239.2 144.3 239.7 147.0 240.0 148.0" fill="none" stroke="#fff" stroke-width="4.4" stroke-linecap="butt"/>
<path d="M243.0 150.0 C243.6 149.6 244.1 149.1 246.3 147.5 C248.6 145.9 252.3 142.3 256.5 140.6 C260.7 138.9 266.0 138.8 271.5 137.3 C277.0 135.8 283.0 134.1 289.5 131.6 C296.0 129.1 303.5 125.7 310.5 122.3 C317.5 118.9 324.0 115.4 331.5 111.0 C339.0 106.6 348.0 100.7 355.5 96.0 C363.0 91.3 369.9 86.6 376.5 82.7 C383.1 78.8 390.1 75.3 395.0 72.6 C399.9 69.9 404.2 67.5 406.0 66.5" fill="none" stroke="#111" stroke-width="7.0" stroke-linecap="butt"/>
<path d="M243.0 150.0 C243.6 149.6 244.1 149.1 246.3 147.5 C248.6 145.9 252.3 142.3 256.5 140.6 C260.7 138.9 266.0 138.8 271.5 137.3 C277.0 135.8 283.0 134.1 289.5 131.6 C296.0 129.1 303.5 125.7 310.5 122.3 C317.5 118.9 324.0 115.4 331.5 111.0 C339.0 106.6 348.0 100.7 355.5 96.0 C363.0 91.3 369.9 86.6 376.5 82.7 C383.1 78.8 390.1 75.3 395.0 72.6 C399.9 69.9 404.2 67.5 406.0 66.5" fill="none" stroke="#fff" stroke-width="3.4" stroke-linecap="butt"/>
<path d="M226 146.4 Q226.4 144.2 230 143.6 L236 144.2 Q242.4 146.4 246.6 149.8 Q249.8 153 249.8 157.6 L249.2 162 Q246.8 165.6 242.4 167.8 L236.4 168.2 Q233.4 167.2 231.4 164.6 L228 160.4 L226.8 154 Z" fill="#fff" stroke="#111" stroke-width="2.1" stroke-linejoin="round"/>
<path d="M226.9 146.9 Q231.6 149 234.6 152.6 Q238.6 157.6 240.4 166.8" fill="none" stroke="#111" stroke-width="1.9" stroke-linecap="round"/>
<path d="M230.1 144.9 Q235.6 147.6 238.8 151 Q243.6 156.6 244.2 165.4" fill="none" stroke="#111" stroke-width="1.9" stroke-linecap="round"/>
<path d="M233.3 144.5 Q238.6 146.8 241.8 150 Q246.4 155 246.8 162.6" fill="none" stroke="#111" stroke-width="1.9" stroke-linecap="round"/>
<path d="M236.5 144.7 Q241.6 146.8 244.4 149.6 Q248.4 153.6 248.8 159.8" fill="none" stroke="#111" stroke-width="1.9" stroke-linecap="round"/>
<ellipse cx="233.8" cy="160" rx="3.0" ry="3.7" fill="#111" transform="rotate(-25 233.8 160)"/>
<path d="M232.6 161.2 C232.0 161.4 230.1 162.1 229.0 162.6 C227.9 163.1 227.3 163.2 226.0 164.4 C224.7 165.6 222.7 167.7 221.0 170.0 C219.3 172.3 218.1 175.8 216.0 178.0 C213.9 180.2 210.8 181.4 208.5 183.0 C206.2 184.6 204.4 185.7 202.5 187.5 C200.6 189.3 198.4 191.9 197.0 194.0 C195.6 196.1 194.5 199.0 194.0 200.0" fill="none" stroke="#111" stroke-width="8.4" stroke-linecap="butt"/>
<path d="M232.6 161.2 C232.0 161.4 230.1 162.1 229.0 162.6 C227.9 163.1 227.3 163.2 226.0 164.4 C224.7 165.6 222.7 167.7 221.0 170.0 C219.3 172.3 218.1 175.8 216.0 178.0 C213.9 180.2 210.8 181.4 208.5 183.0 C206.2 184.6 204.4 185.7 202.5 187.5 C200.6 189.3 198.4 191.9 197.0 194.0 C195.6 196.1 194.5 199.0 194.0 200.0" fill="none" stroke="#fff" stroke-width="4.4" stroke-linecap="butt"/>
<path d="M434.4 80.2 L438.2 81.8 L466.4 67.6 Q468.8 66 468.6 63.8 L468.6 55 L465.6 52.4 L440 64Z" fill="#fff" stroke="#111" stroke-width="1.8" stroke-linejoin="round"/>
<path d="M412.8 43.8 L441 30.4 Q443 29.4 445 30.6 L464.4 41.6 Q465.6 42.4 465.6 44 L465.6 52.4 L439.6 64.6 L436.6 59.6Z" fill="#fff" stroke="#111" stroke-width="1.8" stroke-linejoin="round"/>
<path d="M436.6 59.4 L464.8 42.6" fill="none" stroke="#111" stroke-width="1.5"/>
<path d="M446.3 64.0 L462.7 56.6 M446.3 67.6 L459.7 61.1" fill="none" stroke="#111" stroke-width="1.3"/>
<ellipse cx="444.8" cy="42.4" rx="5.6" ry="3.0" fill="#fff" stroke="#111" stroke-width="1.4" transform="rotate(-6 444.8 42.4)"/>
<ellipse cx="444.6" cy="41.8" rx="3.0" ry="1.8" fill="#fff" stroke="#111" stroke-width="1.0"/>
<path d="M401.4 46.2 Q401.6 44 404 42.8 L406.4 42 Q408 41.8 409.6 42.8 L438.4 60.6 Q440.6 62 440.6 64.4 L440.4 71 Q440 75.6 437.4 77.4 L433 79 L418.8 70 L406 60 L401.2 55.4Z" fill="#fff" stroke="#111" stroke-width="1.9" stroke-linejoin="round"/>
<path d="M403.2 45.6 Q404.4 44.6 406.4 45.8 L434.4 63.6 Q436.8 65.4 436.8 68.4 L436.4 76.6" fill="none" stroke="#111" stroke-width="1.3"/>
<path d="M404 64.6 L415.6 57.4 Q418.6 57.6 420 60.8 Q420.8 64.6 418.4 66.8 L407.2 72 Q404.6 69 404 64.6Z" fill="#fff" stroke="#111" stroke-width="1.8" stroke-linejoin="round"/>
<path d="M406.6 63.2 Q408.8 66.4 409.4 70.6" fill="none" stroke="#111" stroke-width="1.3"/>
<path d="M170 69.6 L182 69.8 Q190 69.6 193.4 68 Q194.6 64.6 194.4 62 Q196 58.6 200.6 58.4 Q206 58.6 207.4 62.4 Q208 65.6 206.8 67.6 L207.6 75 Q206.8 77.6 204.6 77.8 L201.4 76.4 L201 74.4 Q196 73.2 192 73.8 Q186 75 183.4 77 L178 81.4 L174 84 Z" fill="#fff" stroke="#111" stroke-width="2.0" stroke-linejoin="round"/>
<ellipse cx="200.2" cy="64" rx="2.9" ry="2.0" fill="#fff" stroke="#111" stroke-width="1.4"/>
<path d="M201.2 69 L202 74.6" stroke="#111" stroke-width="1.2" fill="none"/>
<path d="M172 70.8 L175 71.2 L178 82 L177.8 90.6 L175.4 89 L174.6 82.6 Z" fill="#111" stroke="#111" stroke-width="1.0" stroke-linejoin="round"/>
<path d="M167.6 90.2 L172.6 86.6 L178.6 94.4 L173.6 98 Z" fill="#fff" stroke="#111" stroke-width="1.5" stroke-linejoin="round"/>
<ellipse cx="175" cy="94.6" rx="1.6" ry="1.6" fill="#fff" stroke="#111" stroke-width="1.1"/>
<path d="M140.5 76 L163.2 61.2 L174.6 82.6 L160 96.4 L153 94.8 L143.4 84.2 Z" fill="#fff" stroke="#111" stroke-width="2.1" stroke-linejoin="round"/>
<path d="M143.8 84.2 L148.4 84.8 L155.6 94.4" fill="none" stroke="#111" stroke-width="1.5" stroke-linejoin="round"/>
<path d="M133.6 70 L155.4 54.2 L164 57.6 L166 62 L141 77.6 Z" fill="#fff" stroke="#111" stroke-width="2.1" stroke-linejoin="round"/>
<path d="M146.8 66.2 L150.8 63 L150.2 66.4Z" fill="#fff" stroke="#111" stroke-width="1.1" stroke-linejoin="round"/>
<path d="M137.6 71.6 L142.4 68.4 L144.6 72.4 L139.8 75.6Z" fill="#111"/>
<ellipse cx="168.6" cy="65" rx="2.3" ry="2.7" fill="#fff" stroke="#111" stroke-width="1.3"/>
<ellipse cx="130.4" cy="77.2" rx="7.4" ry="6.4" fill="#111"/>
<path d="M126.6 75.6 l2.2 1.6 M128.8 79.6 l3 -1.2 M131.6 74.4 l1.6 2" stroke="#fff" stroke-width="0.9" fill="none"/>
<ellipse cx="166.6" cy="54" rx="7.2" ry="6.2" fill="#111" transform="rotate(10 166.6 54)"/>
<path d="M163.4 51.6 l2.4 -1.2 M166.6 54.6 l2.6 -2.4 M169.4 50.6 l1.6 1.4" stroke="#fff" stroke-width="0.9" fill="none"/>
<line x1="104.0" y1="203.3" x2="207.0" y2="245.4" stroke="#222" stroke-width="0.8"/>
<line x1="270.4" y1="271.5" x2="316.0" y2="291.0" stroke="#222" stroke-width="0.8"/>
<line x1="384.7" y1="320.2" x2="464.7" y2="356.3" stroke="#311" stroke-width="0.8"/>
<line x1="484.0" y1="365.5" x2="491.5" y2="368.8" stroke="#222" stroke-width="0.8"/>
</svg>
</body></html>
